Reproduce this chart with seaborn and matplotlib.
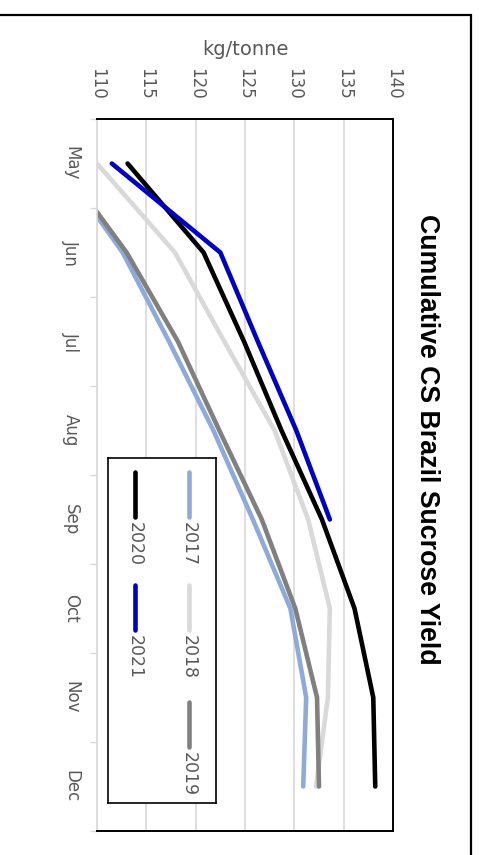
import numpy as np
import pandas as pd
import matplotlib
matplotlib.use("Agg")
import matplotlib.pyplot as plt
from matplotlib.patches import Rectangle
import seaborn as sns

# Harvest months (crushing season) and cumulative sucrose yield, kg per tonne of cane
months = ["May", "Jun", "Jul", "Aug", "Sep", "Oct", "Nov", "Dec"]
years = ["2017", "2018", "2019", "2020", "2021"]
y2017 = [106.2, 112.6, 117.3, 121.8, 125.8, 129.6, 131.2, 130.9]
y2018 = [110.0, 117.9, 122.9, 128.0, 131.4, 133.6, 133.4, 132.2]
y2019 = [106.4, 113.0, 118.2, 122.4, 126.7, 130.1, 132.3, 132.5]
y2020 = [113.1, 120.8, 124.9, 128.7, 132.8, 136.1, 138.0, 138.2]
y2021 = [111.5, 122.5, 126.3, 130.2, 133.6, np.nan, np.nan, np.nan]
value_ticks = [110, 115, 120, 125, 130, 135, 140]

colors = {"2017": "#8EAADB", "2018": "#D9D9D9", "2019": "#808080",
          "2020": "#000000", "2021": "#0000C0"}

series = dict(zip(years, [y2017, y2018, y2019, y2020, y2021]))
rows = []
for yr, vals in series.items():
    for i, (m, v) in enumerate(zip(months, vals)):
        rows.append({"year": yr, "month": m, "pos": i, "kg": v})
df = pd.DataFrame(rows).dropna()

sns.set_style("white")
plt.rcParams["font.family"] = ["DejaVu Sans"]

W, H = 479, 855
fig = plt.figure(figsize=(W / 100, H / 100), dpi=100)

def px_box(x0, y0, x1, y1):
    return [x0 / W, 1 - y1 / H, (x1 - x0) / W, (y1 - y0) / H]

ax = fig.add_axes(px_box(97, 119, 393, 831))

sns.lineplot(data=df, x="kg", y="pos", hue="year", hue_order=years,
             palette=colors, orient="y", linewidth=3.3, legend=False,
             estimator=None, ax=ax)
for ln in ax.lines:
    ln.set_solid_capstyle("round")
    ln.set_solid_joinstyle("round")

tick_col = "#595959"
ax.set_xlim(value_ticks[0], value_ticks[-1])
ax.set_ylim(len(months) - 0.5, -0.5)

ax.xaxis.tick_top()
ax.xaxis.set_label_position("top")
ax.set_xticks(value_ticks)
ax.set_xticklabels([str(v) for v in value_ticks])
ax.tick_params(axis="x", length=0, pad=14, labelrotation=-90,
               labelsize=12, labelcolor=tick_col)
ax.set_xlabel("kg/tonne", fontsize=14, color=tick_col, labelpad=9)

ax.set_yticks(range(len(months)))
ax.set_yticklabels(months, rotation=-90, va="center")
ax.set_yticks(np.arange(-0.5, len(months), 1), minor=True)
ax.tick_params(axis="y", which="major", length=0, pad=12,
               labelsize=12, labelcolor=tick_col)
ax.tick_params(axis="y", which="minor", length=5, width=1,
               color="#D9D9D9", left=True)
ax.set_ylabel("")

ax.grid(axis="x", color="#D9D9D9", linewidth=1.2)
ax.grid(axis="y", visible=False)
ax.set_axisbelow(True)
for side in ["top", "right", "bottom"]:
    ax.spines[side].set_color("black")
    ax.spines[side].set_linewidth(1.4)
ax.spines["left"].set_color("#D9D9D9")
ax.spines["left"].set_linewidth(1.2)

# Legend box drawn in its own frame, entries running down the page
lax = fig.add_axes(px_box(108, 458, 216, 803), zorder=5)
lax.set_xlim(0, 1)
lax.set_ylim(1, 0)
lax.set_xticks([])
lax.set_yticks([])
lax.set_facecolor("white")
for s in lax.spines.values():
    s.set_color("black")
    s.set_linewidth(1.2)
col_x = [0.75, 0.25]
row_y = [0.041, 0.368, 0.707]
handle_len = 0.130
for i, yr in enumerate(years):
    cx = col_x[i // 3]
    y0 = row_y[i % 3]
    lax.plot([cx, cx], [y0, y0 + handle_len], color=colors[yr], lw=3.3,
             solid_capstyle="round")
    lax.text(cx, y0 + handle_len + 0.015, yr, rotation=-90, ha="center",
             va="top", fontsize=12.5, color=tick_col)

fig.text(427 / W, 1 - 439 / H, "Cumulative CS Brazil Sucrose Yield",
         rotation=-90, ha="center", va="center", fontsize=19.3,
         fontweight="bold", color="black",
         family=["Liberation Sans", "DejaVu Sans"])

fig.add_artist(Rectangle((-0.02, -0.02), 471 / W + 0.02, 1 - 15 / H + 0.02,
                         transform=fig.transFigure, fill=False,
                         edgecolor="black", linewidth=1.6))

fig.savefig("out.png", dpi=100)
